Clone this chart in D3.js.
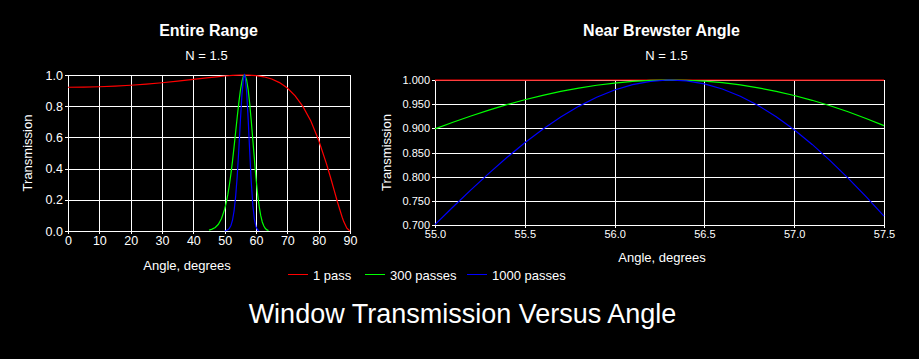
<!DOCTYPE html>
<html>
<head>
<meta charset="utf-8">
<script src="https://cdn.jsdelivr.net/npm/d3@7/dist/d3.min.js"></script>
<style>
  html, body { margin: 0; padding: 0; background: #000; }
  svg { display: block; }
  text { font-family: "Liberation Sans", Arial, sans-serif; fill: #fff; }
</style>
</head>
<body>
<svg id="chart" width="919" height="359"></svg>
<script>
// ---------- data ----------
const chartTitle = "Window Transmission Versus Angle";
const leftTitle = "Entire Range";
const rightTitle = "Near Brewster Angle";
const subTitle = "N = 1.5";
const xLabel = "Angle, degrees";
const yLabel = "Transmission";
const seriesNames = ["1 pass", "300 passes", "1000 passes"];
const seriesColors = ["#ff0000", "#00ff00", "#0000ff"];

// Entire range
const angle1 = [0, 5, 10, 15, 20, 25, 30, 35, 40, 45, 47.5, 50, 52.5, 55, 56.31, 57.5, 60, 62.5, 65, 67.5, 70, 72.5, 75, 77.5, 80, 82.5, 84, 85, 86, 87.5, 88, 89, 90];
const pass1 = [0.9216, 0.9224, 0.9248, 0.9287, 0.9342, 0.9414, 0.9502, 0.9604, 0.9716, 0.9831, 0.9885, 0.9935, 0.9973, 0.9996, 1.0, 0.9997, 0.9964, 0.9885, 0.9742, 0.9513, 0.9167, 0.8668, 0.7975, 0.7047, 0.5821, 0.4303, 0.3283, 0.2571, 0.1859, 0.0883, 0.0603, 0.0178, 0.0];

const angle300 = [45, 46, 47, 48, 49, 50, 50.5, 51, 51.5, 52, 52.5, 53, 53.5, 54, 54.5, 55, 55.5, 56, 56.31, 56.5, 57, 57.5, 58, 58.5, 59, 59.5, 60, 60.5, 61, 61.5, 62, 62.5, 63, 63.5, 64];
const pass300 = [0.006, 0.012, 0.023, 0.043, 0.080, 0.140, 0.182, 0.233, 0.295, 0.366, 0.448, 0.539, 0.634, 0.729, 0.820, 0.899, 0.959, 0.994, 1.0, 0.998, 0.968, 0.906, 0.815, 0.703, 0.581, 0.458, 0.339, 0.238, 0.160, 0.100, 0.058, 0.032, 0.016, 0.007, 0.003];

const angle1000 = [50, 50.5, 51, 51.5, 52, 52.5, 53, 53.5, 54, 54.5, 55, 55.5, 56, 56.31, 56.5, 57, 57.5, 58, 58.5, 59, 59.5, 60, 60.5, 61];
const pass1000 = [0.001, 0.003, 0.008, 0.017, 0.035, 0.069, 0.128, 0.220, 0.349, 0.516, 0.701, 0.870, 0.979, 1.0, 0.992, 0.897, 0.718, 0.505, 0.309, 0.164, 0.074, 0.027, 0.008, 0.002];

// Near Brewster angle
const nearAngle = [55.0, 55.1, 55.2, 55.3, 55.4, 55.5, 55.6, 55.7, 55.8, 55.9, 56.0, 56.1, 56.2, 56.3, 56.4, 56.5, 56.6, 56.7, 56.8, 56.9, 57.0, 57.1, 57.2, 57.3, 57.4, 57.5];
const near1 = [0.9996, 0.9997, 0.9997, 0.9998, 0.9998, 0.9999, 0.9999, 0.9999, 0.9999, 1.0, 1.0, 1.0, 1.0, 1.0, 1.0, 1.0, 1.0, 1.0, 0.9999, 0.9999, 0.9999, 0.9999, 0.9998, 0.9998, 0.9997, 0.9997];
const near300 = [0.8989, 0.9126, 0.9256, 0.9377, 0.9489, 0.9591, 0.9682, 0.9764, 0.9833, 0.9891, 0.9937, 0.9971, 0.9992, 1.0000, 0.9995, 0.9976, 0.9944, 0.9898, 0.9838, 0.9766, 0.9679, 0.9580, 0.9467, 0.9342, 0.9204, 0.9055];
const near1000 = [0.7008, 0.7372, 0.7727, 0.8069, 0.8395, 0.8700, 0.8980, 0.9233, 0.9455, 0.9642, 0.9793, 0.9904, 0.9973, 1.0000, 0.9982, 0.9920, 0.9813, 0.9663, 0.9472, 0.9240, 0.8970, 0.8667, 0.8332, 0.7970, 0.7586, 0.7183];

// tick labels
const leftXTicks = [0, 10, 20, 30, 40, 50, 60, 70, 80, 90];
const leftYTicks = [0.0, 0.2, 0.4, 0.6, 0.8, 1.0];
const rightXTicks = [55.0, 55.5, 56.0, 56.5, 57.0, 57.5];
const rightYTicks = [0.70, 0.75, 0.80, 0.85, 0.90, 0.95, 1.00];

// ---------- drawing ----------
const svg = d3.select("#chart");
svg.append("rect").attr("width", 919).attr("height", 359).attr("fill", "#000");

function panel(cfg) {
  const x = d3.scaleLinear().domain(cfg.xDomain).range([cfg.x0, cfg.x1]);
  const y = d3.scaleLinear().domain(cfg.yDomain).range([cfg.y1, cfg.y0]);
  const g = svg.append("g");

  // grid
  g.append("g").selectAll("line").data(cfg.xTicks).join("line")
    .attr("x1", d => Math.round(x(d)) + 0.5).attr("x2", d => Math.round(x(d)) + 0.5)
    .attr("y1", cfg.y0).attr("y2", cfg.y1)
    .attr("stroke", "#fff").attr("stroke-width", 1).attr("shape-rendering", "crispEdges");
  g.append("g").selectAll("line").data(cfg.yTicks).join("line")
    .attr("y1", d => Math.round(y(d)) + 0.5).attr("y2", d => Math.round(y(d)) + 0.5)
    .attr("x1", cfg.x0).attr("x2", cfg.x1)
    .attr("stroke", "#fff").attr("stroke-width", 1).attr("shape-rendering", "crispEdges");

  // axes
  const ax = g.append("g").attr("transform", `translate(0,${cfg.y1})`)
    .call(d3.axisBottom(x).tickValues(cfg.xTicks).tickFormat(cfg.xFmt).tickSize(3).tickSizeOuter(0).tickPadding(2));
  const ay = g.append("g").attr("transform", `translate(${cfg.x0},0)`)
    .call(d3.axisLeft(y).tickValues(cfg.yTicks).tickFormat(cfg.yFmt).tickSize(3).tickSizeOuter(0).tickPadding(2));
  [ax, ay].forEach(a => {
    a.selectAll("path,line").attr("stroke", "#fff").attr("shape-rendering", "crispEdges");
    a.selectAll("text").attr("fill", "#fff").style("font-family", '"Liberation Sans", Arial, sans-serif').style("font-size", cfg.tickFont + "px");
  });

  // clip
  const clipId = "clip" + cfg.id;
  svg.append("clipPath").attr("id", clipId).append("rect")
    .attr("x", cfg.x0 - 1).attr("y", cfg.y0 - 2).attr("width", cfg.x1 - cfg.x0 + 2).attr("height", cfg.y1 - cfg.y0 + 3);

  const line = d3.line().x(d => x(d[0])).y(d => y(d[1]));
  cfg.series.forEach((s, i) => {
    g.append("path")
      .datum(s.xs.map((v, k) => [v, s.ys[k]]))
      .attr("d", line)
      .attr("fill", "none")
      .attr("stroke", s.color)
      .attr("stroke-width", 1.2)
      .attr("clip-path", `url(#${clipId})`);
  });

  // titles
  svg.append("text").attr("x", cfg.titleX).attr("y", 36).attr("text-anchor", "middle")
    .style("font-size", "16px").style("font-weight", "bold").text(cfg.title);
  svg.append("text").attr("x", cfg.subX).attr("y", 60).attr("text-anchor", "middle")
    .style("font-size", "13px").text(subTitle);
  svg.append("text").attr("x", cfg.xLabX).attr("y", cfg.xLabY).attr("text-anchor", "middle")
    .style("font-size", "13px").text(xLabel);
  svg.append("text").attr("transform", `translate(${cfg.yLabX},${(cfg.y0 + cfg.y1) / 2}) rotate(-90)`)
    .attr("text-anchor", "middle").style("font-size", "13px").text(yLabel);
}

panel({
  id: "L", x0: 68, x1: 350, y0: 75, y1: 231,
  xDomain: [0, 90], yDomain: [0, 1],
  xTicks: leftXTicks, yTicks: leftYTicks,
  xFmt: d3.format("d"), yFmt: d3.format(".1f"), tickFont: 12.5,
  title: leftTitle, titleX: 208.5, subX: 206.5,
  xLabX: 187, xLabY: 270, yLabX: 31.5,
  series: [
    { xs: angle1, ys: pass1, color: seriesColors[0] },
    { xs: angle300, ys: pass300, color: seriesColors[1] },
    { xs: angle1000, ys: pass1000, color: seriesColors[2] }
  ]
});

panel({
  id: "R", x0: 435, x1: 884, y0: 80, y1: 225,
  xDomain: [55, 57.5], yDomain: [0.7, 1.0],
  xTicks: rightXTicks, yTicks: rightYTicks,
  xFmt: d3.format(".1f"), yFmt: d3.format(".3f"), tickFont: 11,
  title: rightTitle, titleX: 661.5, subX: 666.5,
  xLabX: 662, xLabY: 262, yLabX: 391,
  series: [
    { xs: nearAngle, ys: near1, color: seriesColors[0] },
    { xs: nearAngle, ys: near300, color: seriesColors[1] },
    { xs: nearAngle, ys: near1000, color: seriesColors[2] }
  ]
});

// legend
const legendX = [288, 365, 467];
const lg = svg.append("g");
seriesNames.forEach((name, i) => {
  lg.append("line").attr("x1", legendX[i]).attr("x2", legendX[i] + 20)
    .attr("y1", 274.5).attr("y2", 274.5).attr("stroke", seriesColors[i]).attr("stroke-width", 1)
    .attr("shape-rendering", "crispEdges");
  lg.append("text").attr("x", legendX[i] + 25).attr("y", 280).style("font-size", "13px").text(name);
});

// main title
svg.append("text").attr("x", 462.5).attr("y", 323).attr("text-anchor", "middle")
  .style("font-size", "27px").text(chartTitle);
</script>
</body>
</html>
